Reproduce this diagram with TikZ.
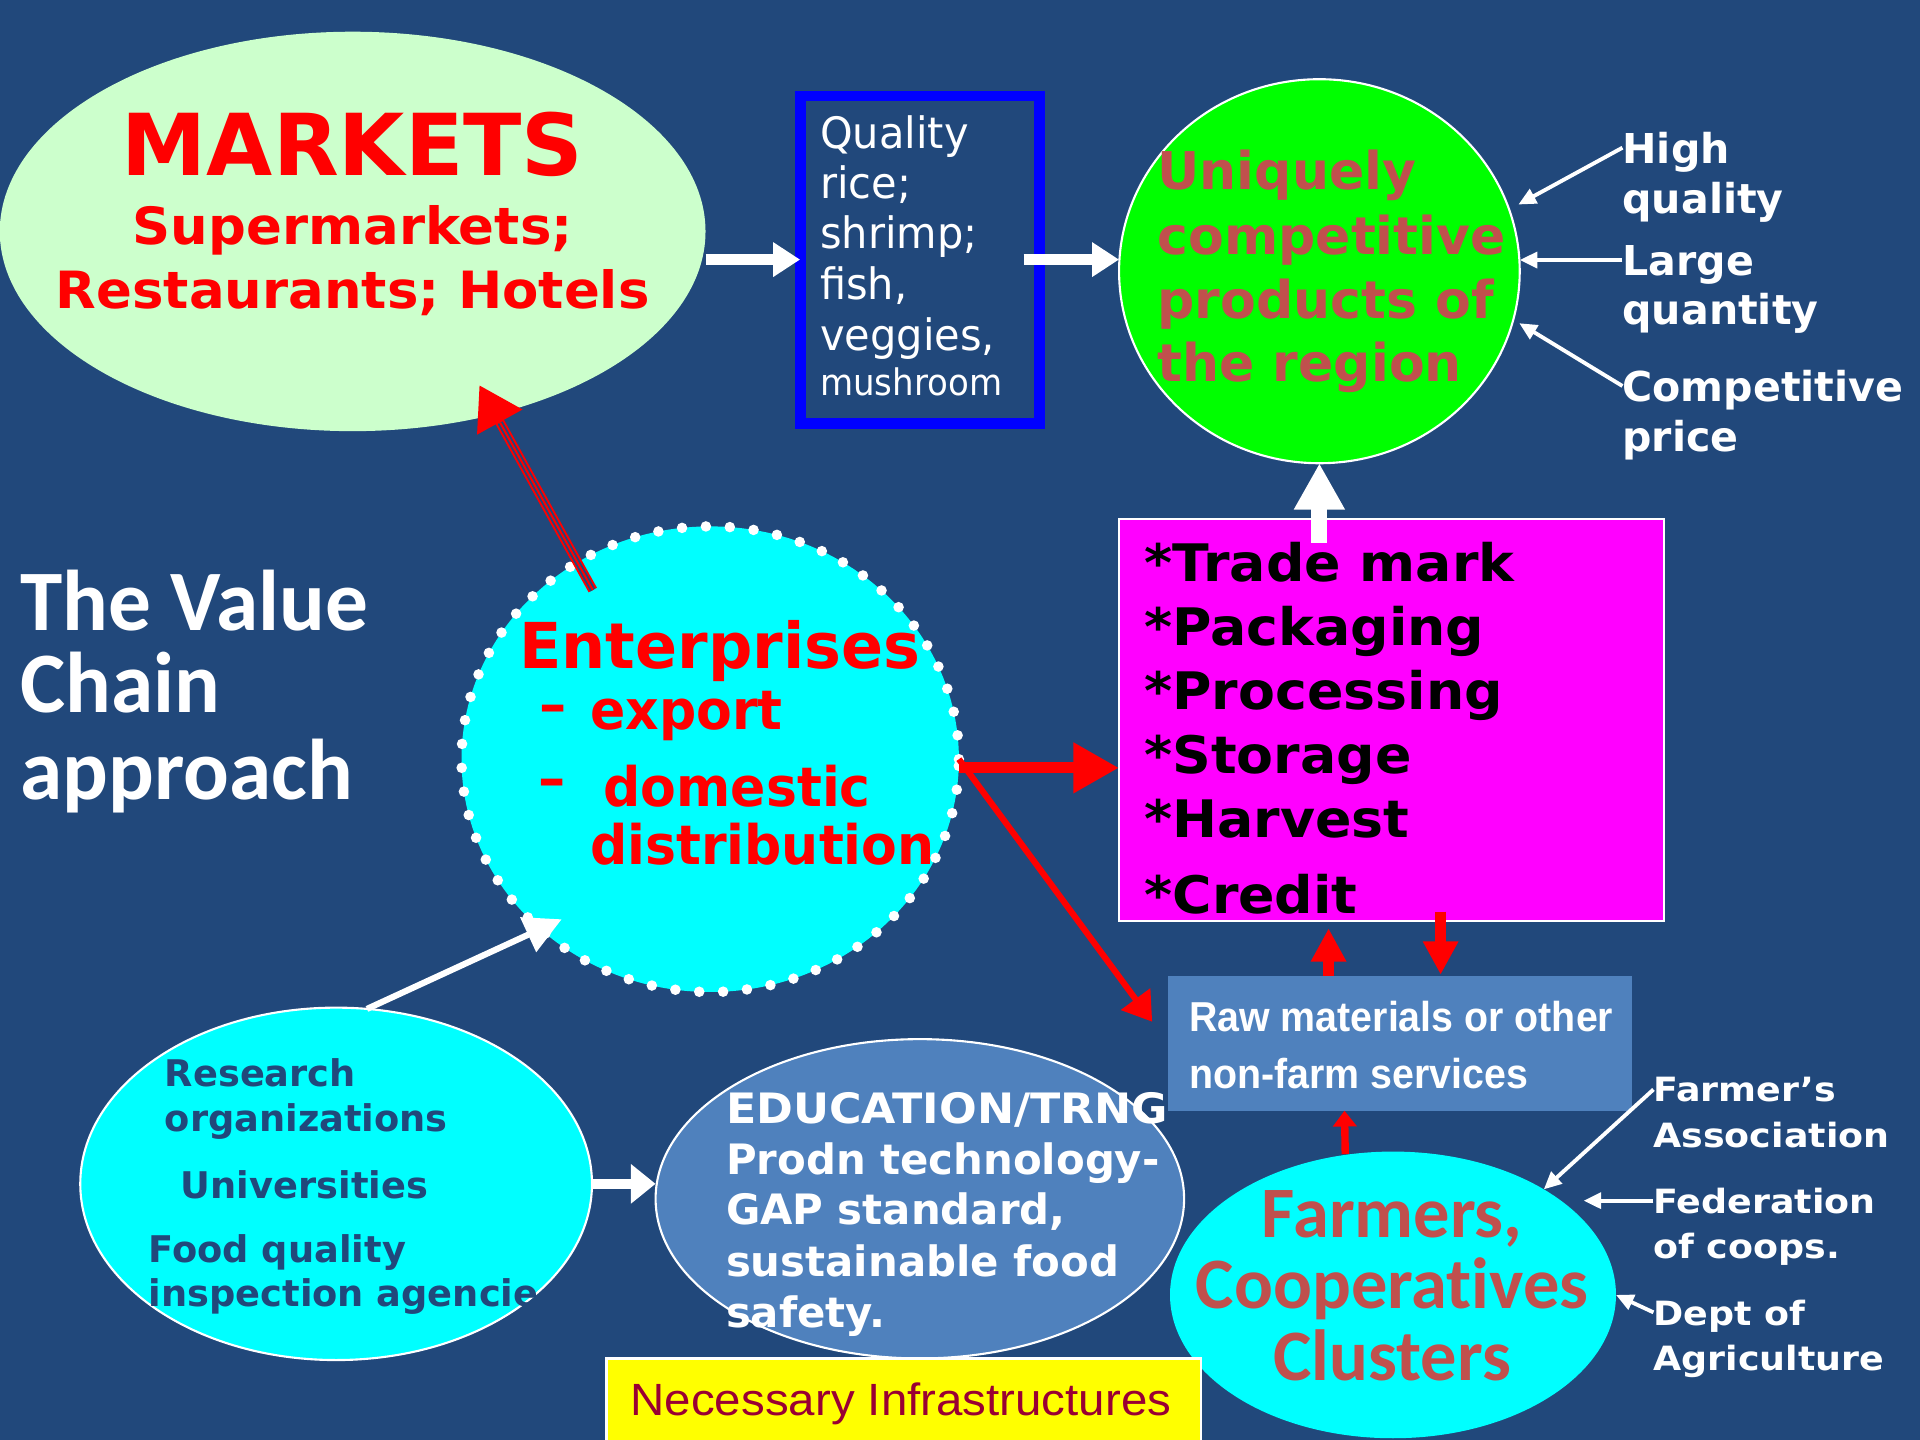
\documentclass[tikz,border=0pt]{standalone}
\usepackage{graphicx}
\usepackage{fontspec}
\setmainfont{DejaVu Sans}
\newfontfamily\carl{Carlito}[Ligatures=NoCommon]
\newfontfamily\libs{Liberation Sans}
\usetikzlibrary{shapes.geometric,arrows.meta,calc}
\definecolor{bg}{RGB}{33,72,123}
\definecolor{mktgreen}{HTML}{CCFFCC}
\definecolor{brick}{HTML}{C0504D}
\definecolor{steel}{HTML}{4F81BD}
\definecolor{wine}{RGB}{153,0,51}
\definecolor{cyanx}{RGB}{0,255,255}
\definecolor{magx}{RGB}{255,0,255}
\definecolor{grnx}{RGB}{0,255,0}
\definecolor{yelx}{RGB}{255,255,0}
\definecolor{bluex}{RGB}{0,0,255}
\definecolor{redx}{RGB}{255,0,0}
\newcommand\fz[1]{\fontsize{#1}{#1}\selectfont}
\newcommand\hs[2]{\scalebox{#1}[1]{#2}}
\tikzset{
 ell/.style={ellipse, inner sep=0pt, outer sep=0pt},
 box/.style={rectangle, inner sep=0pt, outer sep=0pt},
 txt/.style={inner sep=0pt, outer sep=0pt, anchor=base west},
 ctxt/.style={inner sep=0pt, outer sep=0pt, anchor=base},
 qualf/.style={txt, text=white, font=\fz{12.3pt}},
 grnf/.style={txt, text=brick, font=\fz{14.8pt}\bfseries},
 lblf/.style={txt, text=white, font=\fz{11.7pt}\bfseries},
 lblg/.style={txt, text=white, font=\fz{9.5pt}\bfseries},
 vcf/.style={txt, text=white, font=\fz{24.5pt}\carl\bfseries},
 entsub/.style={txt, text=redx, font=\fz{15.5pt}\bfseries},
 magf/.style={txt, text=black, font=\fz{14.7pt}\bfseries},
 rawf/.style={txt, text=white, font=\fz{11.9pt}\libs\bfseries},
 resf/.style={txt, text=bg, font=\fz{10.45pt}\bfseries},
 eduf/.style={txt, text=white, font=\fz{11.9pt}\bfseries},
 frmf/.style={ctxt, text=brick, font=\fz{20.6pt}\carl\bfseries},
 warr/.style={draw=white, line width=3.1pt, -{Triangle[length=7.7pt,width=9.4pt]}},
 warrbig/.style={draw=white, line width=4.5pt, -{Triangle[length=13.2pt,width=13.6pt]}},
 warrsm/.style={draw=white, line width=1.75pt, -{Triangle[length=10.5pt,width=10.5pt]}},
 warrmid/.style={draw=white, line width=2.8pt, -{Triangle[length=7pt,width=10.8pt]}},
 warrthin/.style={draw=white, line width=1.1pt, -{Triangle[length=5pt,width=4.5pt]}},
 rarrbig/.style={draw=redx, line width=3.2pt, -{Triangle[length=13pt,width=13.6pt]}},
 rarrmid/.style={draw=redx, line width=1.75pt, -{Triangle[length=8pt,width=10pt]}},
 rarrsm/.style={draw=redx, line width=3pt, -{Triangle[length=9.5pt,width=9.5pt]}},
 rarrtiny/.style={draw=redx, line width=2.1pt, -{Triangle[length=4.5pt,width=6.6pt]}},
}
\begin{document}
\begin{tikzpicture}[x=0.0122449cm, y=-0.0122449cm]
\useasboundingbox (0,0) rectangle (1568,1176);
\fill[bg] (0,0) rectangle (1568,1176);

% ---------- shapes ----------
\node[ell, fill=mktgreen, minimum width=7.053cm, minimum height=3.992cm] (mkt) at (288,189) {};
\node[box, draw=bluex, line width=3.1pt, minimum width=2.388cm, minimum height=3.269cm] (qual) at (751,212) {};
\node[ell, fill=grnx, draw=white, line width=0.6pt, minimum width=4.004cm, minimum height=3.838cm] (grn) at (1077.5,221.5) {};
\node[ell, fill=cyanx, draw=white, line width=3pt, dash pattern=on 0pt off 6.8pt, line cap=round, minimum width=4.971cm, minimum height=4.653cm] (ent) at (580,620) {};
\node[box, fill=magx, draw=white, line width=0.6pt, minimum width=5.449cm, minimum height=4.016cm] (mag) at (1136.5,588) {};
\node[box, fill=steel, minimum width=4.641cm, minimum height=1.347cm] (raw) at (1143.5,852) {};
\node[ell, fill=cyanx, draw=white, line width=0.6pt, minimum width=5.114cm, minimum height=3.522cm] (res) at (274.5,966.8) {};
\node[ell, fill=steel, draw=white, line width=0.6pt, minimum width=5.282cm, minimum height=3.191cm] (edu) at (751.2,979) {};
\node[ell, fill=cyanx, minimum width=4.457cm, minimum height=2.865cm] (frm) at (1137.6,1057.5) {};
\node[box, fill=yelx, draw=white, line width=0.8pt, minimum width=5.941cm, minimum height=0.866cm] (yel) at (738,1144.65) {};

% ---------- texts ----------
\node[ctxt, text=redx, font=\fz{24.3pt}\bfseries] (mk1) at (288,143) {MARKETS};
\node[ctxt, text=redx, font=\fz{14.6pt}\bfseries] (mk2) at (288,200) {\hs{1.03}{Supermarkets;}};
\node[ctxt, text=redx, font=\fz{14.6pt}\bfseries] (mk3) at (288,252) {\hs{1.03}{Restaurants; Hotels}};

\node[qualf] (q1) at (669.8,121) {\hs{0.96}{Quality}};
\node[qualf] (q2) at (669.8,162) {\hs{0.96}{rice;}};
\node[qualf] (q3) at (669.8,203) {\hs{0.96}{shrimp;}};
\node[qualf] (q4) at (669.8,245) {\hs{0.96}{fish,}};
\node[qualf] (q5) at (669.8,286) {\hs{0.96}{veggies,}};
\node[txt, text=white, font=\fz{10.4pt}] (q6) at (669.8,322.6) {\hs{0.93}{mushroom}};

\node[grnf] (g1) at (945.4,155) {Uniquely};
\node[grnf] (g2) at (945.4,207.7) {competitive};
\node[grnf] (g3) at (945.4,260) {products of};
\node[grnf] (g4) at (945.4,311.7) {the region};

\node[lblf, text depth=0pt] (hq1) at (1325,133.4) {High};
\node[lblf] (hq2) at (1325,174.2) {quality};
\node[lblf, text depth=0pt] (lq1) at (1325,224.6) {Large};
\node[lblf] (lq2) at (1325,265.4) {quantity};
\node[lblf, text depth=0pt] (cp1) at (1325,328) {Competitive};
\node[lblf] (cp2) at (1325,368.9) {price};

\node[vcf] (vc1) at (16.9,515.3) {\hs{0.99}{The Value}};
\node[vcf] (vc2) at (16.9,582) {\hs{0.99}{Chain}};
\node[vcf] (vc3) at (16.9,653) {\hs{0.99}{approach}};

\node[txt, text=redx, font=\fz{18pt}\bfseries] (e1) at (424,545.7) {\hs{0.98}{Enterprises}};
\node[entsub] (e2a) at (440.5,591) {–};
\node[entsub] (e2b) at (482,595.7) {\hs{0.955}{export}};
\node[entsub] (e3a) at (439.5,651.3) {–};
\node[entsub] (e3b) at (493,659) {\hs{0.955}{domestic}};
\node[entsub] (e4) at (482,705.6) {\hs{0.955}{distribution}};

\node[magf] (m1) at (934.6,474.5) {\hs{1.04}{*Trade mark}};
\node[magf] (m2) at (934.6,526.8) {\hs{1.04}{*Packaging}};
\node[magf] (m3) at (934.6,579.3) {\hs{1.04}{*Processing}};
\node[magf] (m4) at (934.6,631.5) {\hs{1.04}{*Storage}};
\node[magf] (m5) at (934.6,683.8) {\hs{1.04}{*Harvest}};
\node[magf] (m6) at (934.6,745.9) {\hs{1.04}{*Credit}};

\node[rawf] (r1) at (971.1,842.5) {\hs{0.94}{Raw materials or other}};
\node[rawf] (r2) at (971.1,888.8) {\hs{0.94}{non-farm services}};

\node[resf] (rs1) at (134.7,887.4) {Research};
\node[resf] (rs2) at (134.7,924.2) {organizations};
\node[resf] (rs3) at (147.8,978.6) {Universities};
\node[resf] (rs4) at (121.5,1031.2) {Food quality};
\node[resf] (rs5) at (121.5,1067.1) {inspection agencie};

\node[eduf] (ed1) at (592.9,917.4) {\hs{1.06}{EDUCATION/TRNG}};
\node[eduf] (ed2) at (592.9,959) {Prodn technology-};
\node[eduf] (ed3) at (592.9,1000.4) {GAP standard,};
\node[eduf] (ed4) at (592.9,1042.6) {sustainable food};
\node[eduf] (ed5) at (592.9,1084.2) {safety.};

\node[txt, text=wine, font=\fz{12.85pt}\libs] (ni) at (515,1155.6) {\hs{1.05}{Necessary Infrastructures}};

\node[frmf] (f1) at (1137,1010.5) {Farmers,};
\node[frmf] (f2) at (1137,1068.4) {Cooperatives};
\node[frmf] (f3) at (1137,1127) {Clusters};

\node[lblg, text depth=0pt] (fa1) at (1350.3,899.7) {\hs{1.09}{Farmer’s}};
\node[lblg] (fa2) at (1350.3,937) {\hs{1.09}{Association}};
\node[lblg, text depth=0pt] (fe1) at (1350.3,990.9) {\hs{1.09}{Federation}};
\node[lblg] (fe2) at (1350.3,1027.6) {\hs{1.09}{of coops.}};
\node[lblg, text depth=0pt] (de1) at (1350.3,1082.1) {\hs{1.09}{Dept of}};
\node[lblg] (de2) at (1350.3,1119.4) {\hs{1.09}{Agriculture}};

% ---------- connectors ----------
\draw[warr] (qual.west -| mkt.east) -- (qual.west);
\draw[warr, shorten <=-4.4pt] (qual.east) -- (qual.east -| grn.west);
\draw[warrbig, shorten <=-6.7pt] (grn.south |- mag.north) -- (grn.south);
\draw[rarrbig] (ent.358) -- (ent.358 -| mag.west);
\draw[rarrmid, shorten >=7.6pt] (ent.east) -- (raw.west);
\draw[rarrsm] ($(raw.north)+(-58.5,0)$) -- ($(mag.south)+(-51.5,6)$);
\draw[rarrsm] ($(mag.south)+(40,-7.5)$) -- ($(raw.north)+(33,-1)$);
\draw[rarrtiny] ($(frm.north)+(-39,2)$) -- ($(raw.south)+(-45.5,0)$);

\draw[redx, line width=2.7pt, shorten <=-9pt, shorten >=-9.4pt, -{Triangle[length=12pt,width=14pt]}] (ent.124) -- (mkt.308);
\draw[bg, line width=1.6pt, shorten <=-9pt, shorten >=2.8pt] (ent.124) -- (mkt.308);
\draw[redx, line width=0.55pt, shorten <=-9pt, shorten >=2.8pt] (ent.124) -- (mkt.308);

\draw[warrsm, shorten >=-6.7pt] (res.80) -- (ent.225);
\draw[warrmid] (res.east) -- (res.east -| edu.west);

\draw[warrthin, shorten >=3pt] (hq1.west) -- (grn.18);
\draw[warrthin] (lq1.west) -- (lq1.west -| grn.east);
\draw[warrthin, shorten >=2pt] (cp1.west) -- (grn.346);
\draw[warrthin] (fa1.west) -- (frm.35);
\draw[warrthin, shorten >=4.5pt] (fe1.west) -- (fe1.west -| frm.27);
\draw[warrthin] (de1.west) -- (frm.east);
\end{tikzpicture}
\end{document}
